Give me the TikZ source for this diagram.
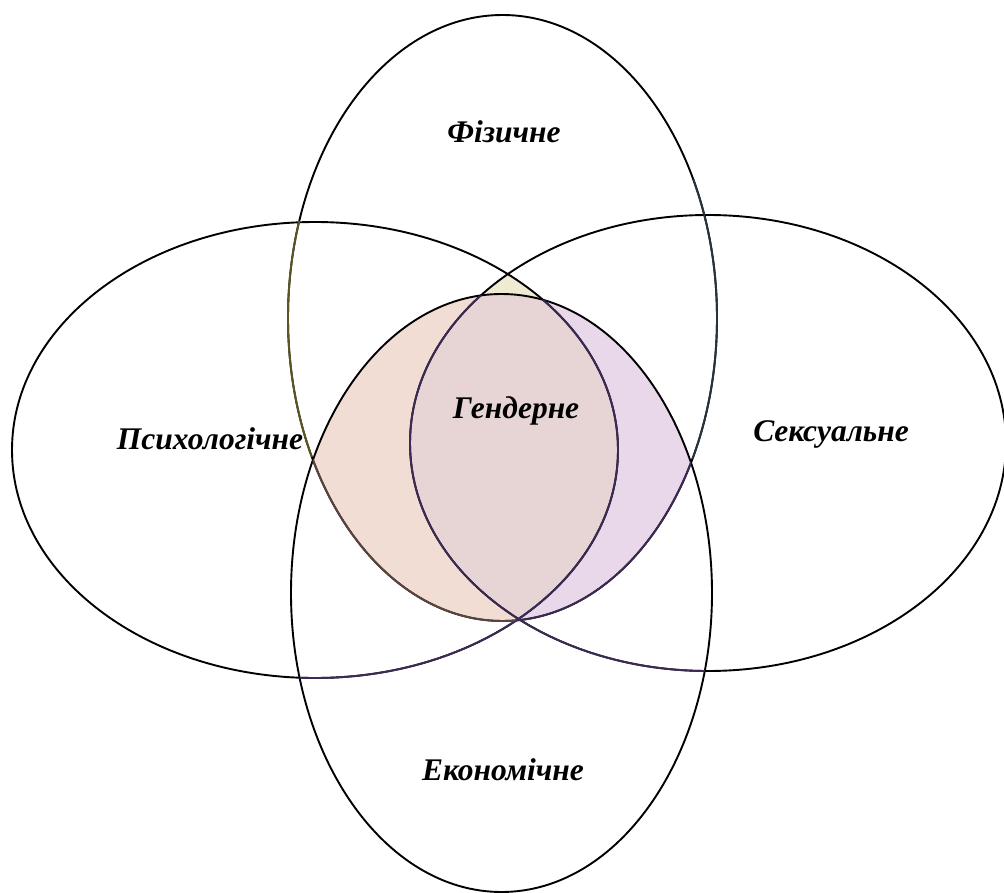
\documentclass[tikz,border=0pt]{standalone}
\usepackage{fontspec}
\setmainfont{Liberation Serif}
\definecolor{yellowfill}{HTML}{EFEAD2}
\definecolor{orangefill}{HTML}{F2DDD4}
\definecolor{purplefill}{HTML}{E9D8EA}
\definecolor{mauvefill}{HTML}{E7D5D6}
\definecolor{lenscol}{HTML}{3B2A55}
\definecolor{browncol}{HTML}{5A4440}
\definecolor{olivecol}{HTML}{5B5620}
\definecolor{slatecol}{HTML}{26323C}
\begin{document}
\begin{tikzpicture}[x=1pt,y=-1pt,line width=1.9pt,
  lbl/.style={font=\fontsize{31.5}{38}\selectfont\bfseries\itshape, inner sep=0pt, anchor=base},
  ring/.style={draw=black},
  lensline/.style={draw=lenscol},
  brownline/.style={draw=browncol},
  oliveline/.style={draw=olivecol},
  slateline/.style={draw=slatecol}]
\useasboundingbox (0,0) rectangle (1004,893);
\def\Etop{(502.5,318) ellipse [x radius=214.5pt, y radius=303pt]}
\def\Ebot{(501.5,593) ellipse [x radius=210.5pt, y radius=299pt]}
\def\Eleft{(315,450) ellipse [x radius=303pt, y radius=228pt]}
\def\Eright{(708,443) ellipse [x radius=298pt, y radius=228pt]}
% fills
\begin{scope}
  \clip \Etop; \clip \Eleft;
  \fill[yellowfill] \Eright;
\end{scope}
\begin{scope}
  \clip \Etop; \clip \Ebot;
  \fill[orangefill] \Eleft;
  \fill[purplefill] \Eright;
  \clip \Eleft;
  \fill[mauvefill] \Eright;
\end{scope}
% outlines
\path[ring] \Etop;
\path[ring] \Ebot;
\path[ring] \Eleft;
\path[ring] \Eright;
% tinted parts of outlines
\begin{scope}
  \clip \Ebot;
  \path[lensline] \Eleft;
  \path[lensline] \Eright;
\end{scope}
\begin{scope}
  \clip \Ebot; \clip (0,0) rectangle (516,893);
  \path[brownline] \Etop;
\end{scope}
\begin{scope}
  \clip \Ebot; \clip (516,0) rectangle (1004,893);
  \path[lensline] \Etop;
\end{scope}
\begin{scope}
  \clip (250,222) rectangle (400,456);
  \path[oliveline] \Etop;
\end{scope}
\begin{scope}
  \clip (650,180) rectangle (760,458);
  \path[slateline] \Etop;
\end{scope}
% labels
\node[lbl] (fiz) at (504,143) {Фізичне};
\node[lbl] (psy) at (210,449) {Психологічне};
\node[lbl] (gen) at (516,418) {Гендерне};
\node[lbl] (sex) at (831,441) {Сексуальне};
\node[lbl] (eco) at (503,780) {Економічне};
\end{tikzpicture}
\end{document}
